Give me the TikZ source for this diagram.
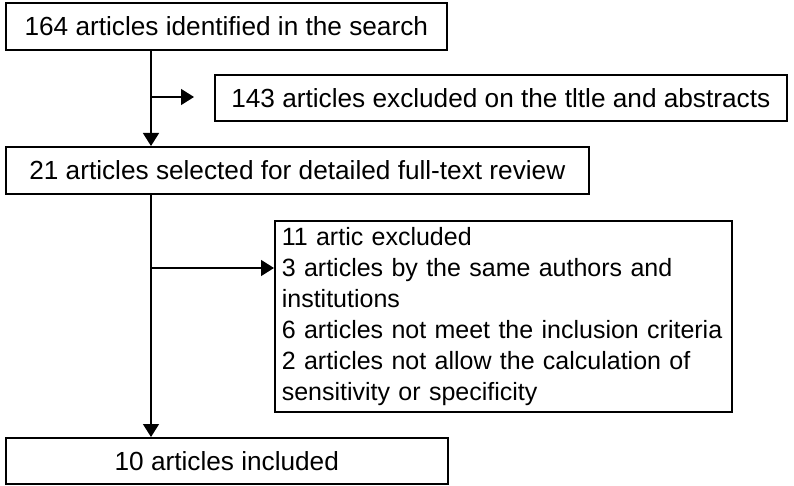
\documentclass[tikz,border=0pt]{standalone}
\usepackage{fontspec}
\setmainfont{Liberation Sans}
\usetikzlibrary{arrows.meta}
\begin{document}
\begin{tikzpicture}[x=1pt,y=-1pt,
  box/.style={draw, line width=1.6pt, inner sep=0pt, anchor=north west,
    font=\fontsize{26.2}{31}\selectfont},
  listbox/.style={box, font=\fontsize{25}{31}\selectfont, align=left},
  arr/.style={line width=1.5pt, -{Triangle[length=13pt,width=16pt]}}]
\useasboundingbox (0,0) rectangle (794,486);
\node[box, minimum width=441pt, minimum height=47pt] (a) at (5,2) {164 articles identified in the search};
\node[box, minimum width=572pt, minimum height=46pt] (b) at (214,74) {143 articles excluded on the tltle and abstracts};
\node[box, minimum width=583pt, minimum height=47pt] (c) at (5,146) {21 articles selected for detailed full-text review};
\node[listbox, minimum width=457pt, minimum height=191pt, text width=443pt, inner xsep=7pt] (d) at (274,220) {11 artic excluded\\3 articles by the same authors and\\institutions\\6 articles not meet the inclusion criteria\\2 articles not allow the calculation of\\sensitivity or specificity};
\node[box, minimum width=442pt, minimum height=46pt] (e) at (5,437) {10 articles included};
\coordinate (b1) at (151,97);
\coordinate (t1) at (194,97);
\coordinate (b2) at (151,268);
\draw[arr] ([xshift=146pt]a.south west) -- ([xshift=146pt]c.north west);
\draw[arr] (b1) -- (t1);
\draw[arr] ([xshift=146pt]c.south west) -- ([xshift=146pt]e.north west);
\draw[arr] (b2) -- (b2 -| d.west);
\end{tikzpicture}
\end{document}
